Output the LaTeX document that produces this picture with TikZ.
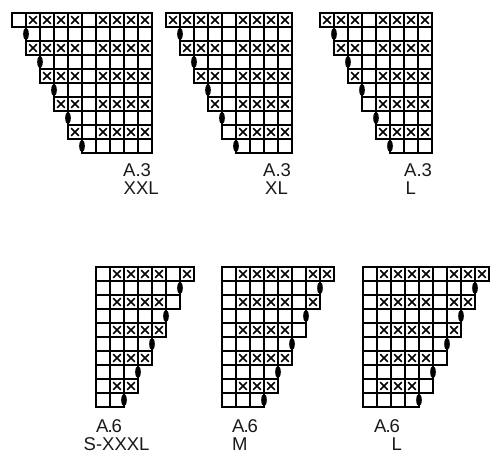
\documentclass[tikz,border=0pt]{standalone}
\usepackage{fontspec}
\setmainfont{Liberation Sans}
\tikzset{
  gridl/.style={draw=black, line width=1.1pt},
  xmk/.style={draw=black, line width=1.6pt, line cap=butt},
  knot/.style={fill=black},
  lbl/.style={anchor=base west, inner sep=0pt, font=\fontsize{18.5}{21}\selectfont, text=black!90}
}
\newcommand\knrow[3]{\foreach \c in {#2,...,#3}{\draw[gridl] (\c-1,#1-1) rectangle (\c,#1);}}
\newcommand\knx[2]{\foreach \c in {#2}{\draw[xmk] (\c-0.77,#1-0.77) -- (\c-0.23,#1-0.23) (\c-0.77,#1-0.23) -- (\c-0.23,#1-0.77);}}
\newcommand\kno[2]{\fill[knot] (#2,#1-0.5) ellipse [x radius=2.8pt, y radius=6.3pt];}
\begin{document}
\begin{tikzpicture}[x=1pt, y=-1pt]
\useasboundingbox (0,0) rectangle (500,466);
% A.3 XXL
\begin{scope}[shift={(12pt,-13pt)}, x=14pt, y=-14pt]
  \knrow{1}{1}{10}\knrow{2}{2}{10}\knrow{3}{2}{10}\knrow{4}{3}{10}\knrow{5}{3}{10}
  \knrow{6}{4}{10}\knrow{7}{4}{10}\knrow{8}{5}{10}\knrow{9}{5}{10}\knrow{10}{6}{10}
  \knx{1}{2,3,4,5,7,8,9,10}\knx{3}{2,3,4,5,7,8,9,10}\knx{5}{3,4,5,7,8,9,10}
  \knx{7}{4,5,7,8,9,10}\knx{9}{5,7,8,9,10}
  \kno{2}{1}\kno{4}{2}\kno{6}{3}\kno{8}{4}\kno{10}{5}
\end{scope}
% A.3 XL
\begin{scope}[shift={(166pt,-13pt)}, x=14pt, y=-14pt]
  \knrow{1}{1}{9}\knrow{2}{2}{9}\knrow{3}{2}{9}\knrow{4}{3}{9}\knrow{5}{3}{9}
  \knrow{6}{4}{9}\knrow{7}{4}{9}\knrow{8}{5}{9}\knrow{9}{5}{9}\knrow{10}{6}{9}
  \knx{1}{1,2,3,4,6,7,8,9}\knx{3}{2,3,4,6,7,8,9}\knx{5}{3,4,6,7,8,9}
  \knx{7}{4,6,7,8,9}\knx{9}{6,7,8,9}
  \kno{2}{1}\kno{4}{2}\kno{6}{3}\kno{8}{4}\kno{10}{5}
\end{scope}
% A.3 L
\begin{scope}[shift={(320pt,-13pt)}, x=14pt, y=-14pt]
  \knrow{1}{1}{8}\knrow{2}{2}{8}\knrow{3}{2}{8}\knrow{4}{3}{8}\knrow{5}{3}{8}
  \knrow{6}{4}{8}\knrow{7}{4}{8}\knrow{8}{5}{8}\knrow{9}{5}{8}\knrow{10}{6}{8}
  \knx{1}{1,2,3,5,6,7,8}\knx{3}{2,3,5,6,7,8}\knx{5}{3,5,6,7,8}
  \knx{7}{5,6,7,8}\knx{9}{5,6,7,8}
  \kno{2}{1}\kno{4}{2}\kno{6}{3}\kno{8}{4}\kno{10}{5}
\end{scope}
% A.6 S-XXXL
\begin{scope}[shift={(96pt,-267pt)}, x=14pt, y=-14pt]
  \knrow{1}{1}{7}\knrow{2}{1}{6}\knrow{3}{1}{6}\knrow{4}{1}{5}\knrow{5}{1}{5}
  \knrow{6}{1}{4}\knrow{7}{1}{4}\knrow{8}{1}{3}\knrow{9}{1}{3}\knrow{10}{1}{2}
  \knx{1}{2,3,4,5,7}\knx{3}{2,3,4,5}\knx{5}{2,3,4,5}\knx{7}{2,3,4}\knx{9}{2,3}
  \kno{2}{6}\kno{4}{5}\kno{6}{4}\kno{8}{3}\kno{10}{2}
\end{scope}
% A.6 M
\begin{scope}[shift={(222pt,-267pt)}, x=14pt, y=-14pt]
  \knrow{1}{1}{8}\knrow{2}{1}{7}\knrow{3}{1}{7}\knrow{4}{1}{6}\knrow{5}{1}{6}
  \knrow{6}{1}{5}\knrow{7}{1}{5}\knrow{8}{1}{4}\knrow{9}{1}{4}\knrow{10}{1}{3}
  \knx{1}{2,3,4,5,7,8}\knx{3}{2,3,4,5,7}\knx{5}{2,3,4,5}\knx{7}{2,3,4,5}\knx{9}{2,3,4}
  \kno{2}{7}\kno{4}{6}\kno{6}{5}\kno{8}{4}\kno{10}{3}
\end{scope}
% A.6 L
\begin{scope}[shift={(363pt,-267pt)}, x=14pt, y=-14pt]
  \knrow{1}{1}{9}\knrow{2}{1}{8}\knrow{3}{1}{8}\knrow{4}{1}{7}\knrow{5}{1}{7}
  \knrow{6}{1}{6}\knrow{7}{1}{6}\knrow{8}{1}{5}\knrow{9}{1}{5}\knrow{10}{1}{4}
  \knx{1}{2,3,4,5,7,8,9}\knx{3}{2,3,4,5,7,8}\knx{5}{2,3,4,5,7}\knx{7}{2,3,4,5}\knx{9}{2,3,4}
  \kno{2}{8}\kno{4}{7}\kno{6}{6}\kno{8}{5}\kno{10}{4}
\end{scope}
% labels
\node[lbl] (t1a) at (123,176) {A.3};
\node[lbl] (t1b) at (123.5,194.5) {XXL};
\node[lbl] (t2a) at (263,176) {A.3};
\node[lbl] (t2b) at (265,194.5) {XL};
\node[lbl] (t3a) at (404,176) {A.3};
\node[lbl] (t3b) at (405.5,194.5) {L};
\node[lbl] (b1a) at (96,432) {A\kern-1pt.\kern-1pt6};
\node[lbl] (b1b) at (83.5,450.5) {S-XXXL};
\node[lbl] (b2a) at (232,432) {A\kern-1pt.\kern-1pt6};
\node[lbl] (b2b) at (232,450.5) {M};
\node[lbl] (b3a) at (374,432) {A\kern-1pt.\kern-1pt6};
\node[lbl] (b3b) at (391.5,450.5) {L};
\end{tikzpicture}
\end{document}
